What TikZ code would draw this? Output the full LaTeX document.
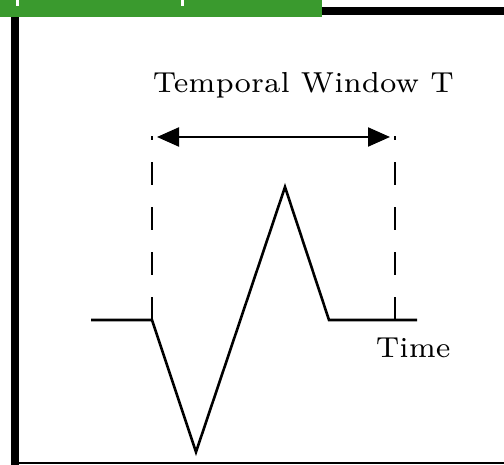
\documentclass[tikz,border=0pt]{standalone}
\usepackage{tikz}
\usetikzlibrary{arrows.meta,positioning,calc}
\usepackage{xcolor}
\definecolor{bargreen}{RGB}{58,154,46}
\tikzset{
  wave/.style={line width=2.6pt,line join=miter},
  winline/.style={line width=2.2pt,dash pattern=on 22.5pt off 22.5pt},
  span/.style={{Triangle[length=22pt,width=19pt]}-{Triangle[length=22pt,width=19pt]},line width=2.2pt},
  lbl/.style={font=\fontsize{7}{8}\selectfont,scale=4.13,inner sep=0pt},
}
\begin{document}
\begin{tikzpicture}[x=1pt,y=1pt]
    \useasboundingbox (0,0) rectangle (504,465);
    % frame
    \fill[bargreen] (0,448) rectangle (322,465);
    \fill[white] (16,459) rectangle (19,465);
    \fill[white] (181,459) rectangle (184,465);
    \fill[black] (322,450) rectangle (504,458);
    \fill[black] (11,0) rectangle (19,448);
    \fill[black] (19,1) rectangle (504,3);
    % signal
    \coordinate (w0) at (91,145);
    \coordinate (w1) at (152,145);
    \coordinate (w2) at (196,13);
    \coordinate (w3) at (285,278);
    \coordinate (w4) at (329,145);
    \coordinate (w5) at (417,145);
    \draw[wave] (w0) -- (w1) -- (w2) -- (w3) -- (w4) -- (w5);
    % window
    \coordinate (lb) at (152,145);
    \coordinate (lt) at (152,329);
    \coordinate (rb) at (395,145);
    \coordinate (rt) at (395,329);
    \draw[winline] (lb) -- (lt);
    \draw[winline] (rb) -- (rt);
    \coordinate (al) at (157,328);
    \coordinate (ar) at (390,328);
    \draw[span] (al) -- (ar);
    \node[lbl,anchor=base west] (win) at (152,372) {Temporal Window T};
    \node[lbl,anchor=base west] (time) at (375,107) {Time};
  \end{tikzpicture}
\end{document}
